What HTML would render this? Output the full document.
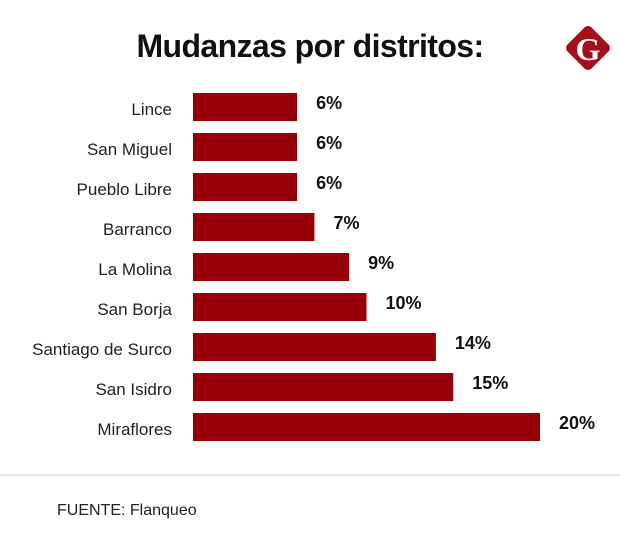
<!DOCTYPE html>
<html><head><meta charset="utf-8"><style>
body{margin:0;background:#fff;width:620px;height:543px;overflow:hidden;font-family:"Liberation Sans",sans-serif}
</style></head><body>
<svg width="620" height="543">
<text x="310" y="57" text-anchor="middle" font-size="32" font-weight="bold" fill="#111" style="letter-spacing:-0.6px">Mudanzas por distritos:</text>
<g>
<rect x="571" y="31" width="34" height="34" rx="5" fill="#a50f1a" transform="rotate(45 588 48)"/>
<text x="588" y="60" text-anchor="middle" font-size="32" font-weight="bold" fill="#fff" font-family="Liberation Serif">G</text>
</g>
<g id="bars"></g>
<line x1="0" y1="475" x2="620" y2="475" stroke="#ccc"/>
<text x="57" y="515" font-size="16" fill="#222">FUENTE: Flanqueo</text>
</svg>
<script>
const categories=["Lince","San Miguel","Pueblo Libre","Barranco","La Molina","San Borja","Santiago de Surco","San Isidro","Miraflores"];
const values=[6,6,6,7,9,10,14,15,20];
const valueLabels=["6%","6%","6%","7%","9%","10%","14%","15%","20%"];
const g=document.getElementById('bars');
const ns="http://www.w3.org/2000/svg";
const x0=193, pxPer=17.35;
const xs=v=>x0+v*pxPer;
const ys=i=>93+i*40;
categories.forEach((c,i)=>{
 const r=document.createElementNS(ns,'rect');
 r.setAttribute('x',x0);r.setAttribute('y',ys(i));r.setAttribute('width',xs(values[i])-x0);r.setAttribute('height',28);r.setAttribute('fill','#980008');
 
 
 g.appendChild(r);
 const t=document.createElementNS(ns,'text');
 t.setAttribute('x',172);t.setAttribute('y',ys(i)+22);t.setAttribute('text-anchor','end');t.setAttribute('font-size','17');t.setAttribute('fill','#222');
 t.textContent=c;
 
 
 g.appendChild(t);
 const v=document.createElementNS(ns,'text');
 v.setAttribute('x',xs(values[i])+19);v.setAttribute('y',ys(i)+16);v.setAttribute('font-size','18');v.setAttribute('font-weight','bold');v.setAttribute('fill','#111');
 v.textContent=valueLabels[i];
 
 
 g.appendChild(v);
});
</script>
</body></html>
